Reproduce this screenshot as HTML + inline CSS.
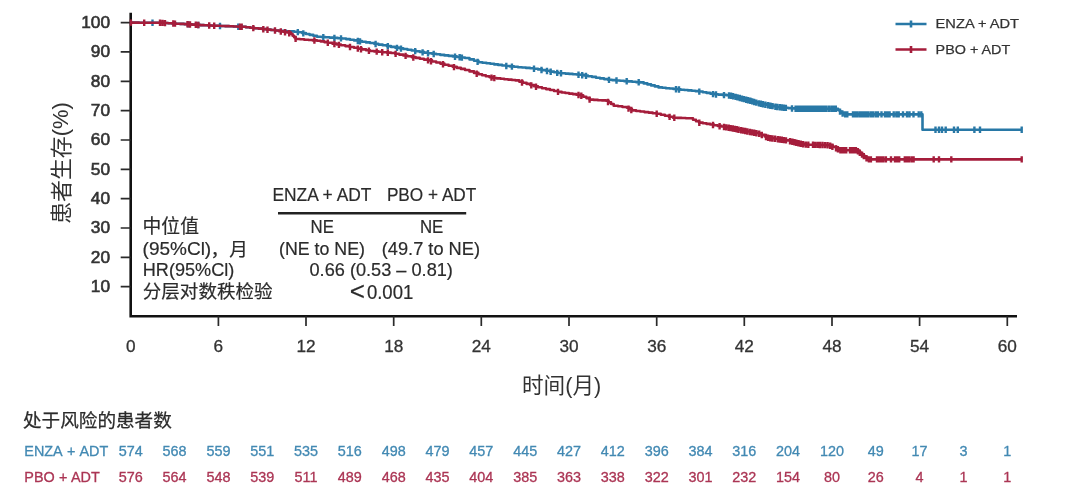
<!DOCTYPE html>
<html lang="zh"><head><meta charset="utf-8"><title>KM</title>
<style>html,body{margin:0;padding:0;background:#fff}body{width:1080px;height:503px;overflow:hidden}svg{display:block;filter:blur(0.45px)}</style>
</head><body>
<svg width="1080" height="503" viewBox="0 0 1080 503">
<rect width="1080" height="503" fill="#fff"/>
<path d="M130.7,12.7V316.2H1017" fill="none" stroke="#111" stroke-width="2.6" stroke-linejoin="miter"/>
<path d="M120.7,286.7H130.7M120.7,257.3H130.7M120.7,228.0H130.7M120.7,198.6H130.7M120.7,169.3H130.7M120.7,140.0H130.7M120.7,110.6H130.7M120.7,81.3H130.7M120.7,51.9H130.7M120.7,22.6H130.7M218.4,316.2V326M306.0,316.2V326M393.7,316.2V326M481.3,316.2V326M569.0,316.2V326M656.7,316.2V326M744.3,316.2V326M832.0,316.2V326M919.6,316.2V326M1007.3,316.2V326" fill="none" stroke="#2a2a2a" stroke-width="1.7"/>
<g font-family="'Liberation Sans',sans-serif" font-size="17.3" fill="#333" stroke="#333" stroke-width="0.6">
<text x="110" y="292.0" text-anchor="end">10</text>
<text x="110" y="262.6" text-anchor="end">20</text>
<text x="110" y="233.3" text-anchor="end">30</text>
<text x="110" y="203.9" text-anchor="end">40</text>
<text x="110" y="174.6" text-anchor="end">50</text>
<text x="110" y="145.3" text-anchor="end">60</text>
<text x="110" y="115.9" text-anchor="end">70</text>
<text x="110" y="86.6" text-anchor="end">80</text>
<text x="110" y="57.2" text-anchor="end">90</text>
<text x="110" y="27.9" text-anchor="end">100</text>
</g>
<g font-family="'Liberation Sans',sans-serif" font-size="17.2" fill="#333" stroke="#333" stroke-width="0.3" text-anchor="middle">
<text x="130.7" y="352">0</text>
<text x="218.4" y="352">6</text>
<text x="306.0" y="352">12</text>
<text x="393.7" y="352">18</text>
<text x="481.3" y="352">24</text>
<text x="569.0" y="352">30</text>
<text x="656.7" y="352">36</text>
<text x="744.3" y="352">42</text>
<text x="832.0" y="352">48</text>
<text x="919.6" y="352">54</text>
<text x="1007.3" y="352">60</text>
</g>
<text x="561.6" y="392.6" font-family="'Liberation Sans','Noto Sans CJK SC',sans-serif" font-size="21.6" fill="#333" text-anchor="middle">时间(月)</text>
<text transform="translate(69.3,163) rotate(-90)" font-family="'Liberation Sans','Noto Sans CJK SC',sans-serif" font-size="21.9" fill="#333" text-anchor="middle">患者生存<tspan dy="-1.5">(%)</tspan></text>
<path d="M130.7,22.6 L134.9,22.6 L134.9,22.6 L139.1,22.6 L139.1,22.7 L143.3,22.7 L143.3,22.7 L147.4,22.7 L147.4,22.7 L151.6,22.7 L151.6,22.7 L155.8,22.7 L155.8,22.8 L160.0,22.8 L160.0,22.8 L164.0,22.8 L164.0,23.0 L168.0,23.0 L168.0,23.2 L172.0,23.2 L172.0,23.5 L176.0,23.5 L176.0,23.7 L180.0,23.7 L180.0,23.9 L184.0,23.9 L184.0,24.1 L188.0,24.1 L188.0,24.4 L192.0,24.4 L192.0,24.6 L196.0,24.6 L196.0,24.8 L200.0,24.8 L200.0,25.1 L204.0,25.1 L204.0,25.3 L208.0,25.3 L208.0,25.5 L212.2,25.5 L212.2,25.7 L216.4,25.7 L216.4,25.8 L220.6,25.8 L220.6,26.0 L224.8,26.0 L224.8,26.1 L229.1,26.1 L229.1,26.3 L233.3,26.3 L233.3,26.5 L237.5,26.5 L237.5,26.6 L241.7,26.6 L241.7,26.8 L245.9,26.8 L245.9,27.3 L250.0,27.3 L250.0,27.7 L254.2,27.7 L254.2,28.2 L258.4,28.2 L258.4,28.6 L262.5,28.6 L262.5,29.1 L266.7,29.1 L266.7,29.6 L270.8,29.6 L270.8,30.0 L275.0,30.0 L275.0,30.5 L278.8,30.5 L278.8,30.7 L282.5,30.7 L282.5,30.9 L286.2,30.9 L286.2,31.2 L290.0,31.2 L290.0,31.4 L294.2,31.4 L294.2,31.8 L298.5,31.8 L298.5,32.2 L302.2,32.2 L302.2,33.1 L305.9,33.1 L305.9,34.0 L309.6,34.0 L309.6,34.9 L313.3,34.9 L313.3,35.8 L317.0,35.8 L317.0,36.7 L321.2,36.7 L321.2,37.0 L325.3,37.0 L325.3,37.3 L329.5,37.3 L329.5,37.6 L333.7,37.6 L333.7,37.9 L337.8,37.9 L337.8,38.2 L342.0,38.2 L342.0,38.5 L346.0,38.5 L346.0,39.1 L350.0,39.1 L350.0,39.8 L354.0,39.8 L354.0,40.4 L358.0,40.4 L358.0,41.0 L362.0,41.0 L362.0,41.7 L366.0,41.7 L366.0,42.4 L370.0,42.4 L370.0,43.0 L374.2,43.0 L374.2,43.8 L378.4,43.8 L378.4,44.6 L382.6,44.6 L382.6,45.3 L386.8,45.3 L386.8,46.1 L391.0,46.1 L391.0,46.9 L395.1,46.9 L395.1,47.6 L399.2,47.6 L399.2,48.3 L403.3,48.3 L403.3,49.0 L407.4,49.0 L407.4,49.7 L411.6,49.7 L411.6,50.5 L415.7,50.5 L415.7,51.2 L419.8,51.2 L419.8,51.9 L423.9,51.9 L423.9,52.6 L428.0,52.6 L428.0,53.3 L432.1,53.3 L432.1,53.8 L436.2,53.8 L436.2,54.3 L440.3,54.3 L440.3,54.9 L444.4,54.9 L444.4,55.4 L448.6,55.4 L448.6,55.9 L452.7,55.9 L452.7,56.4 L456.8,56.4 L456.8,57.0 L460.9,57.0 L460.9,57.5 L465.0,57.5 L465.0,58.0 L469.5,58.0 L469.5,59.4 L474.0,59.4 L474.0,60.8 L478.5,60.8 L478.5,62.2 L482.4,62.2 L482.4,62.7 L486.4,62.7 L486.4,63.3 L490.3,63.3 L490.3,63.8 L494.2,63.8 L494.2,64.4 L498.1,64.4 L498.1,64.9 L502.1,64.9 L502.1,65.5 L506.0,65.5 L506.0,66.0 L510.0,66.0 L510.0,66.4 L514.0,66.4 L514.0,66.8 L518.0,66.8 L518.0,67.2 L522.0,67.2 L522.0,67.5 L526.0,67.5 L526.0,67.9 L530.0,67.9 L530.0,68.3 L534.0,68.3 L534.0,68.7 L538.0,68.7 L538.0,69.4 L542.0,69.4 L542.0,70.1 L546.0,70.1 L546.0,70.8 L550.0,70.8 L550.0,71.6 L554.0,71.6 L554.0,72.3 L558.0,72.3 L558.0,73.0 L561.7,73.0 L561.7,73.3 L565.3,73.3 L565.3,73.6 L569.0,73.6 L569.0,73.9 L572.7,73.9 L572.7,74.2 L576.3,74.2 L576.3,74.5 L580.0,74.5 L580.0,74.8 L584.0,74.8 L584.0,75.5 L588.0,75.5 L588.0,76.2 L592.0,76.2 L592.0,76.9 L596.0,76.9 L596.0,77.7 L600.0,77.7 L600.0,78.4 L604.0,78.4 L604.0,79.1 L608.0,79.1 L608.0,79.8 L612.0,79.8 L612.0,80.1 L616.0,80.1 L616.0,80.5 L620.0,80.5 L620.0,80.8 L624.0,80.8 L624.0,81.1 L628.0,81.1 L628.0,81.4 L632.0,81.4 L632.0,81.8 L636.0,81.8 L636.0,82.1 L640.0,82.1 L640.0,82.4 L643.7,82.4 L643.7,83.4 L647.4,83.4 L647.4,84.4 L651.1,84.4 L651.1,85.4 L654.8,85.4 L654.8,86.4 L658.5,86.4 L658.5,87.4 L662.2,87.4 L662.2,87.8 L665.9,87.8 L665.9,88.2 L669.6,88.2 L669.6,88.5 L673.3,88.5 L673.3,88.9 L677.0,88.9 L677.0,89.3 L680.7,89.3 L680.7,89.7 L684.3,89.7 L684.3,90.0 L688.0,90.0 L688.0,90.4 L691.7,90.4 L691.7,90.8 L695.3,90.8 L695.3,91.1 L699.0,91.1 L699.0,91.5 L702.8,91.5 L702.8,92.2 L706.5,92.2 L706.5,92.9 L710.2,92.9 L710.2,93.6 L714.0,93.6 L714.0,94.3 L718.2,94.3 L718.2,94.6 L722.4,94.6 L722.4,94.9 L726.5,94.9 L726.5,95.3 L730.7,95.3 L730.7,95.6 L734.8,95.6 L734.8,96.7 L738.8,96.7 L738.8,97.8 L742.9,97.8 L742.9,98.8 L746.9,98.8 L746.9,99.9 L751.0,99.9 L751.0,101.0 L754.8,101.0 L754.8,102.2 L758.5,102.2 L758.5,103.3 L762.2,103.3 L762.2,104.0 L765.9,104.0 L765.9,104.8 L769.6,104.8 L769.6,105.5 L773.3,105.5 L773.3,106.3 L777.0,106.3 L777.0,107.0 L780.7,107.0 L780.7,107.4 L784.4,107.4 L784.4,107.7 L788.2,107.7 L788.2,108.1 L791.9,108.1 L791.9,108.4 L795.6,108.4 L795.6,108.8 L836.3,108.8 L838.1,108.8 L838.1,110.2 L840.0,110.2 L840.0,111.6 L841.9,111.6 L841.9,113.0 L843.7,113.0 L843.7,114.4 L922.5,114.4 L922.5,129.8 L1021.7,129.8" fill="none" stroke="#2878a6" stroke-width="2.6" stroke-linejoin="round"/>
<path d="M152.5,19.5v6.4M188.3,21.2v6.4M198.3,21.8v6.4M220.0,22.8v6.4M238.3,23.5v6.4M297.8,28.9v6.4M303.3,30.2v6.4M323.3,34.0v6.4M334.4,34.8v6.4M341.0,35.2v6.4M357.8,37.8v6.4M360.0,38.2v6.4M375.6,40.8v6.4M387.8,43.1v6.4M397.0,44.7v6.4M401.0,45.4v6.4M415.2,47.9v6.4M422.6,49.2v6.4M428.0,50.1v6.4M433.7,50.8v6.4M455.0,53.5v6.4M459.6,54.1v6.4M461.9,54.4v6.4M477.6,58.7v6.4M506.3,62.8v6.4M511.9,63.4v6.4M534.0,65.5v6.4M541.5,66.8v6.4M547.0,67.8v6.4M550.7,68.5v6.4M557.2,69.7v6.4M561.0,70.0v6.4M578.5,71.5v6.4M582.2,72.0v6.4M586.0,72.7v6.4M609.0,76.7v6.4M616.5,77.3v6.4M626.7,78.1v6.4M638.7,79.1v6.4M676.0,86.0v6.4M679.0,86.3v6.4M699.3,88.4v6.4M713.0,90.9v6.4M716.0,91.3v6.4M724.0,91.9v6.4M729.0,92.3v6.4M731.1,92.5v6.4M733.1,93.0v6.4M735.6,93.7v6.4M737.5,94.2v6.4M739.8,94.8v6.4M742.0,95.4v6.4M743.9,95.9v6.4M746.2,96.5v6.4M748.0,97.0v6.4M750.3,97.6v6.4M752.2,98.2v6.4M754.1,98.8v6.4M756.3,99.4v6.4M758.9,100.2v6.4M760.9,100.6v6.4M762.9,101.0v6.4M765.4,101.5v6.4M768.1,102.0v6.4M770.4,102.5v6.4M772.6,102.9v6.4M775.4,103.5v6.4M777.3,103.8v6.4M779.9,104.1v6.4M782.0,104.3v6.4M784.0,104.5v6.4M785.9,104.7v6.4M792.0,105.3v6.4M795.6,105.6v6.4M797.6,105.6v6.4M800.0,105.6v6.4M802.4,105.6v6.4M804.6,105.6v6.4M806.9,105.6v6.4M808.8,105.6v6.4M810.7,105.6v6.4M812.8,105.6v6.4M815.2,105.6v6.4M817.5,105.6v6.4M819.6,105.6v6.4M822.0,105.6v6.4M824.2,105.6v6.4M826.3,105.6v6.4M828.9,105.6v6.4M831.4,105.6v6.4M833.5,105.6v6.4M835.8,105.6v6.4M840.0,108.4v6.4M842.6,110.4v6.4M845.2,111.2v6.4M847.3,111.2v6.4M853.0,111.2v6.4M854.9,111.2v6.4M857.2,111.2v6.4M859.7,111.2v6.4M861.7,111.2v6.4M864.0,111.2v6.4M865.9,111.2v6.4M868.3,111.2v6.4M870.9,111.2v6.4M873.2,111.2v6.4M875.9,111.2v6.4M878.0,111.2v6.4M881.5,111.2v6.4M885.0,111.2v6.4M887.4,111.2v6.4M889.6,111.2v6.4M893.7,111.2v6.4M896.4,111.2v6.4M898.7,111.2v6.4M903.0,111.2v6.4M907.0,111.2v6.4M909.5,111.2v6.4M913.5,111.2v6.4M918.7,111.2v6.4M921.3,111.2v6.4M935.5,126.6v6.4M939.0,126.6v6.4M942.0,126.6v6.4M945.7,126.6v6.4M954.0,126.6v6.4M957.8,126.6v6.4M974.4,126.6v6.4M980.0,126.6v6.4M1021.7,126.6v6.4" fill="none" stroke="#2878a6" stroke-width="2.4"/>
<path d="M130.7,22.6 L134.9,22.6 L134.9,22.6 L139.1,22.6 L139.1,22.7 L143.3,22.7 L143.3,22.7 L147.4,22.7 L147.4,22.7 L151.6,22.7 L151.6,22.7 L155.8,22.7 L155.8,22.8 L160.0,22.8 L160.0,22.8 L164.0,22.8 L164.0,23.0 L168.0,23.0 L168.0,23.2 L172.0,23.2 L172.0,23.5 L176.0,23.5 L176.0,23.7 L180.0,23.7 L180.0,23.9 L184.0,23.9 L184.0,24.1 L188.0,24.1 L188.0,24.4 L192.0,24.4 L192.0,24.6 L196.0,24.6 L196.0,24.8 L200.0,24.8 L200.0,25.1 L204.0,25.1 L204.0,25.3 L208.0,25.3 L208.0,25.5 L212.2,25.5 L212.2,25.7 L216.4,25.7 L216.4,25.8 L220.6,25.8 L220.6,26.0 L224.8,26.0 L224.8,26.1 L229.1,26.1 L229.1,26.3 L233.3,26.3 L233.3,26.5 L237.5,26.5 L237.5,26.6 L241.7,26.6 L241.7,26.8 L245.9,26.8 L245.9,27.3 L250.0,27.3 L250.0,27.7 L254.2,27.7 L254.2,28.2 L258.4,28.2 L258.4,28.6 L262.5,28.6 L262.5,29.1 L266.7,29.1 L266.7,29.6 L270.8,29.6 L270.8,30.0 L275.0,30.0 L275.0,30.5 L279.0,30.5 L279.0,31.2 L283.0,31.2 L283.0,31.8 L287.0,31.8 L287.0,32.5 L291.0,32.5 L291.0,34.0 L292.6,34.0 L292.6,35.7 L294.1,35.7 L294.1,37.3 L295.7,37.3 L295.7,39.0 L300.0,39.0 L300.0,39.3 L304.2,39.3 L304.2,39.7 L308.5,39.7 L308.5,40.0 L312.7,40.0 L312.7,40.4 L317.0,40.4 L317.0,40.7 L320.7,40.7 L320.7,41.4 L324.3,41.4 L324.3,42.1 L328.0,42.1 L328.0,42.8 L332.3,42.8 L332.3,43.6 L336.7,43.6 L336.7,44.5 L341.0,44.5 L341.0,45.3 L345.3,45.3 L345.3,46.1 L349.7,46.1 L349.7,47.0 L354.0,47.0 L354.0,47.8 L358.0,47.8 L358.0,48.6 L362.0,48.6 L362.0,49.4 L366.0,49.4 L366.0,50.2 L370.0,50.2 L370.0,51.0 L374.2,51.0 L374.2,51.4 L378.4,51.4 L378.4,51.8 L382.6,51.8 L382.6,52.2 L386.8,52.2 L386.8,52.6 L391.0,52.6 L391.0,53.0 L395.1,53.0 L395.1,53.8 L399.2,53.8 L399.2,54.6 L403.3,54.6 L403.3,55.5 L407.4,55.5 L407.4,56.3 L411.6,56.3 L411.6,57.1 L415.7,57.1 L415.7,57.9 L419.8,57.9 L419.8,58.8 L423.9,58.8 L423.9,59.6 L428.0,59.6 L428.0,60.4 L432.1,60.4 L432.1,61.5 L436.2,61.5 L436.2,62.5 L440.3,62.5 L440.3,63.6 L444.4,63.6 L444.4,64.7 L448.6,64.7 L448.6,65.7 L452.7,65.7 L452.7,66.8 L456.8,66.8 L456.8,67.9 L460.9,67.9 L460.9,68.9 L465.0,68.9 L465.0,70.0 L469.5,70.0 L469.5,71.4 L474.0,71.4 L474.0,72.9 L478.5,72.9 L478.5,74.3 L482.1,74.3 L482.1,75.2 L485.8,75.2 L485.8,76.2 L489.4,76.2 L489.4,77.1 L493.0,77.1 L493.0,78.0 L496.8,78.0 L496.8,78.4 L500.5,78.4 L500.5,78.8 L504.2,78.8 L504.2,79.2 L508.0,79.2 L508.0,79.6 L511.8,79.6 L511.8,80.0 L515.5,80.0 L515.5,80.4 L519.2,80.4 L519.2,81.6 L522.9,81.6 L522.9,82.8 L526.6,82.8 L526.6,83.9 L530.3,83.9 L530.3,85.1 L534.0,85.1 L534.0,86.3 L538.0,86.3 L538.0,87.2 L542.0,87.2 L542.0,88.2 L546.0,88.2 L546.0,89.1 L550.0,89.1 L550.0,90.0 L554.0,90.0 L554.0,91.0 L558.0,91.0 L558.0,91.9 L561.7,91.9 L561.7,92.5 L565.3,92.5 L565.3,93.0 L569.0,93.0 L569.0,93.6 L572.7,93.6 L572.7,94.1 L576.3,94.1 L576.3,94.7 L580.0,94.7 L580.0,95.2 L583.2,95.2 L583.2,96.7 L586.4,96.7 L586.4,98.1 L589.6,98.1 L589.6,99.6 L593.7,99.6 L593.7,99.9 L597.8,99.9 L597.8,100.2 L601.9,100.2 L601.9,100.4 L606.0,100.4 L606.0,100.7 L608.6,100.7 L608.6,102.4 L611.1,102.4 L611.1,104.0 L613.7,104.0 L613.7,105.7 L618.0,105.7 L618.0,106.3 L622.4,106.3 L622.4,107.0 L626.7,107.0 L626.7,107.6 L629.4,107.6 L629.4,109.0 L632.0,109.0 L632.0,110.4 L636.1,110.4 L636.1,111.0 L640.2,111.0 L640.2,111.5 L644.4,111.5 L644.4,112.1 L648.5,112.1 L648.5,112.6 L652.6,112.6 L652.6,113.2 L656.7,113.2 L656.7,113.7 L660.8,113.7 L660.8,114.7 L664.9,114.7 L664.9,115.8 L668.9,115.8 L668.9,116.8 L673.0,116.8 L673.0,117.8 L677.2,117.8 L677.2,117.9 L681.5,117.9 L681.5,118.0 L685.8,118.0 L685.8,118.2 L690.0,118.2 L690.0,118.3 L693.0,118.3 L693.0,119.7 L696.0,119.7 L696.0,121.2 L699.0,121.2 L699.0,122.6 L702.8,122.6 L702.8,123.2 L706.5,123.2 L706.5,123.9 L710.2,123.9 L710.2,124.5 L714.0,124.5 L714.0,125.2 L717.7,125.2 L717.7,125.9 L721.4,125.9 L721.4,126.5 L725.2,126.5 L725.2,127.2 L728.9,127.2 L728.9,127.8 L732.6,127.8 L732.6,128.5 L736.3,128.5 L736.3,129.2 L740.0,129.2 L740.0,130.0 L743.6,130.0 L743.6,130.7 L747.3,130.7 L747.3,131.5 L751.0,131.5 L751.0,132.2 L754.8,132.2 L754.8,132.8 L758.5,132.8 L758.5,133.5 L761.6,133.5 L761.6,134.9 L764.7,134.9 L764.7,136.4 L767.8,136.4 L767.8,137.8 L771.5,137.8 L771.5,138.3 L775.2,138.3 L775.2,138.8 L778.9,138.8 L778.9,139.4 L782.6,139.4 L782.6,139.9 L786.3,139.9 L786.3,140.4 L790.0,140.4 L790.0,141.2 L793.7,141.2 L793.7,142.1 L797.4,142.1 L797.4,142.9 L801.1,142.9 L801.1,143.8 L804.8,143.8 L804.8,144.6 L808.8,144.6 L808.8,144.7 L812.9,144.7 L812.9,144.8 L816.9,144.8 L816.9,144.9 L820.9,144.9 L820.9,145.0 L825.0,145.0 L825.0,145.1 L829.0,145.1 L829.0,145.2 L832.7,145.2 L832.7,146.9 L836.3,146.9 L836.3,148.5 L840.0,148.5 L840.0,150.2 L856.7,150.2 L858.6,150.2 L858.6,151.7 L860.4,151.7 L860.4,153.3 L862.2,153.3 L862.2,154.8 L864.1,154.8 L864.1,156.3 L865.9,156.3 L865.9,157.9 L867.8,157.9 L867.8,159.4 L1021.7,159.4" fill="none" stroke="#a51d3b" stroke-width="2.6" stroke-linejoin="round"/>
<path d="M130.9,19.4v6.4M144.2,19.5v6.4M160.0,19.6v6.4M162.5,19.7v6.4M165.0,19.9v6.4M173.3,20.3v6.4M175.0,20.4v6.4M187.5,21.1v6.4M190.0,21.3v6.4M195.8,21.6v6.4M198.3,21.8v6.4M209.2,22.3v6.4M214.2,22.5v6.4M240.0,23.5v6.4M241.7,23.6v6.4M253.3,24.9v6.4M263.3,26.0v6.4M267.5,26.5v6.4M275.0,27.3v6.4M280.8,28.3v6.4M285.0,29.0v6.4M289.2,30.1v6.4M295.6,35.7v6.4M314.4,37.3v6.4M327.8,39.6v6.4M334.4,40.8v6.4M338.9,41.7v6.4M350.0,43.8v6.4M357.8,45.4v6.4M361.0,46.0v6.4M368.9,47.6v6.4M376.7,48.4v6.4M382.2,49.0v6.4M387.8,49.5v6.4M395.6,50.7v6.4M405.6,52.7v6.4M413.3,54.3v6.4M428.0,57.2v6.4M431.0,58.0v6.4M443.0,61.1v6.4M454.0,63.9v6.4M476.7,70.5v6.4M491.5,74.4v6.4M494.3,74.9v6.4M522.0,79.3v6.4M531.3,82.2v6.4M536.0,83.6v6.4M558.0,88.7v6.4M578.5,91.8v6.4M581.3,92.6v6.4M589.6,96.4v6.4M608.0,98.8v6.4M628.5,105.4v6.4M631.3,106.8v6.4M656.7,110.5v6.4M669.6,113.7v6.4M674.3,114.6v6.4M699.3,119.5v6.4M713.0,121.8v6.4M719.6,123.0v6.4M724.0,123.8v6.4M726.2,124.2v6.4M728.7,124.6v6.4M730.5,124.9v6.4M732.8,125.3v6.4M734.8,125.7v6.4M736.7,126.1v6.4M738.6,126.5v6.4M741.2,127.0v6.4M743.1,127.4v6.4M745.2,127.8v6.4M747.4,128.3v6.4M750.0,128.8v6.4M751.9,129.2v6.4M754.2,129.6v6.4M756.5,130.0v6.4M759.2,130.6v6.4M761.8,131.8v6.4M766.0,133.8v6.4M768.1,134.6v6.4M770.3,135.0v6.4M772.5,135.3v6.4M775.1,135.6v6.4M777.9,136.0v6.4M779.8,136.3v6.4M781.8,136.6v6.4M783.9,136.9v6.4M786.0,137.2v6.4M790.0,138.0v6.4M792.4,138.6v6.4M794.5,139.1v6.4M796.3,139.5v6.4M798.5,140.0v6.4M800.7,140.5v6.4M803.1,141.0v6.4M805.8,141.4v6.4M808.3,141.5v6.4M813.0,141.6v6.4M815.4,141.7v6.4M817.9,141.7v6.4M819.8,141.8v6.4M822.4,141.8v6.4M825.0,141.9v6.4M827.6,142.0v6.4M830.2,142.5v6.4M832.4,143.5v6.4M836.0,145.2v6.4M837.9,146.1v6.4M840.4,147.0v6.4M842.3,147.0v6.4M844.2,147.0v6.4M846.2,147.0v6.4M850.0,147.0v6.4M852.2,147.0v6.4M854.0,147.0v6.4M855.9,147.0v6.4M857.9,148.0v6.4M859.8,149.6v6.4M862.0,151.4v6.4M863.8,152.9v6.4M866.5,155.1v6.4M868.9,156.2v6.4M870.9,156.2v6.4M877.0,156.2v6.4M879.2,156.2v6.4M881.3,156.2v6.4M883.3,156.2v6.4M885.9,156.2v6.4M891.0,156.2v6.4M895.0,156.2v6.4M897.3,156.2v6.4M899.2,156.2v6.4M904.8,156.2v6.4M907.0,156.2v6.4M909.0,156.2v6.4M911.6,156.2v6.4M913.6,156.2v6.4M933.7,156.2v6.4M939.0,156.2v6.4M951.3,156.2v6.4M1021.7,156.2v6.4" fill="none" stroke="#a51d3b" stroke-width="2.4"/>
<path d="M895.5,24H926.5M911,20.5v7" stroke="#2878a6" stroke-width="2.6" fill="none"/>
<path d="M895.5,49.5H926.5M911,46v7" stroke="#a51d3b" stroke-width="2.6" fill="none"/>
<g font-family="'Liberation Sans',sans-serif" font-size="13.7" fill="#333" stroke="#333" stroke-width="0.25">
<text x="935.6" y="28.1" textLength="83.4" lengthAdjust="spacingAndGlyphs">ENZA + ADT</text>
<text x="935.6" y="53.6" textLength="74.6" lengthAdjust="spacingAndGlyphs">PBO + ADT</text>
</g>
<g font-family="'Liberation Sans','Noto Sans CJK SC',sans-serif" font-size="19" fill="#2b2b2b" stroke="#2b2b2b" stroke-width="0.2">
<text x="321.9" y="200.5" text-anchor="middle" textLength="99" lengthAdjust="spacingAndGlyphs">ENZA + ADT</text>
<text x="431.6" y="200.5" text-anchor="middle" textLength="89.4" lengthAdjust="spacingAndGlyphs">PBO + ADT</text>
<text x="322.2" y="232.5" text-anchor="middle" textLength="23.4" lengthAdjust="spacingAndGlyphs">NE</text>
<text x="431.6" y="232.5" text-anchor="middle" textLength="23.4" lengthAdjust="spacingAndGlyphs">NE</text>
<text x="322" y="255.4" text-anchor="middle" textLength="86" lengthAdjust="spacingAndGlyphs">(NE to NE)</text>
<text x="430.9" y="255.4" text-anchor="middle" textLength="98.2" lengthAdjust="spacingAndGlyphs">(49.7 to NE)</text>
<text x="381.2" y="275.8" text-anchor="middle" textLength="143.4" lengthAdjust="spacingAndGlyphs">0.66 (0.53 – 0.81)</text>
<text x="349.7" y="300.1" font-size="26">&lt;</text>
<text x="366.9" y="298.5" font-size="20" textLength="46.4" lengthAdjust="spacingAndGlyphs">0.001</text>
<text x="142.6" y="233" font-size="18.8">中位值</text>
<text x="142.6" y="255.4" textLength="68.6" lengthAdjust="spacingAndGlyphs">(95%Cl)</text>
<text x="210.6" y="255.8" font-size="18.6">，月</text>
<text x="142.8" y="275.8" textLength="91.5" lengthAdjust="spacingAndGlyphs">HR(95%Cl)</text>
<text x="142.8" y="298" font-size="18.55">分层对数秩检验</text>
</g>
<path d="M278,213.2H466.2" stroke="#222" stroke-width="2.5"/>
<text x="23" y="427" font-family="'Liberation Sans','Noto Sans CJK SC',sans-serif" font-size="18.6" fill="#2b2b2b" stroke="#2b2b2b" stroke-width="0.25">处于风险的患者数</text>
<g font-family="'Liberation Sans',sans-serif" font-size="14.4" fill="#4289b3" stroke="#4289b3" stroke-width="0.3">
<text x="24.3" y="456.3" word-spacing="1">ENZA + ADT</text>
<text x="130.7" y="456.3" text-anchor="middle">574</text>
<text x="174.5" y="456.3" text-anchor="middle">568</text>
<text x="218.4" y="456.3" text-anchor="middle">559</text>
<text x="262.2" y="456.3" text-anchor="middle">551</text>
<text x="306.0" y="456.3" text-anchor="middle">535</text>
<text x="349.8" y="456.3" text-anchor="middle">516</text>
<text x="393.7" y="456.3" text-anchor="middle">498</text>
<text x="437.5" y="456.3" text-anchor="middle">479</text>
<text x="481.3" y="456.3" text-anchor="middle">457</text>
<text x="525.2" y="456.3" text-anchor="middle">445</text>
<text x="569.0" y="456.3" text-anchor="middle">427</text>
<text x="612.8" y="456.3" text-anchor="middle">412</text>
<text x="656.7" y="456.3" text-anchor="middle">396</text>
<text x="700.5" y="456.3" text-anchor="middle">384</text>
<text x="744.3" y="456.3" text-anchor="middle">316</text>
<text x="788.1" y="456.3" text-anchor="middle">204</text>
<text x="832.0" y="456.3" text-anchor="middle">120</text>
<text x="875.8" y="456.3" text-anchor="middle">49</text>
<text x="919.6" y="456.3" text-anchor="middle">17</text>
<text x="963.5" y="456.3" text-anchor="middle">3</text>
<text x="1007.3" y="456.3" text-anchor="middle">1</text>
</g>
<g font-family="'Liberation Sans',sans-serif" font-size="14.4" fill="#ab3554" stroke="#ab3554" stroke-width="0.3">
<text x="24.3" y="481.8" word-spacing="0.3">PBO + ADT</text>
<text x="130.7" y="481.8" text-anchor="middle">576</text>
<text x="174.5" y="481.8" text-anchor="middle">564</text>
<text x="218.4" y="481.8" text-anchor="middle">548</text>
<text x="262.2" y="481.8" text-anchor="middle">539</text>
<text x="306.0" y="481.8" text-anchor="middle">511</text>
<text x="349.8" y="481.8" text-anchor="middle">489</text>
<text x="393.7" y="481.8" text-anchor="middle">468</text>
<text x="437.5" y="481.8" text-anchor="middle">435</text>
<text x="481.3" y="481.8" text-anchor="middle">404</text>
<text x="525.2" y="481.8" text-anchor="middle">385</text>
<text x="569.0" y="481.8" text-anchor="middle">363</text>
<text x="612.8" y="481.8" text-anchor="middle">338</text>
<text x="656.7" y="481.8" text-anchor="middle">322</text>
<text x="700.5" y="481.8" text-anchor="middle">301</text>
<text x="744.3" y="481.8" text-anchor="middle">232</text>
<text x="788.1" y="481.8" text-anchor="middle">154</text>
<text x="832.0" y="481.8" text-anchor="middle">80</text>
<text x="875.8" y="481.8" text-anchor="middle">26</text>
<text x="919.6" y="481.8" text-anchor="middle">4</text>
<text x="963.5" y="481.8" text-anchor="middle">1</text>
<text x="1007.3" y="481.8" text-anchor="middle">1</text>
</g>
</svg>
</body></html>
